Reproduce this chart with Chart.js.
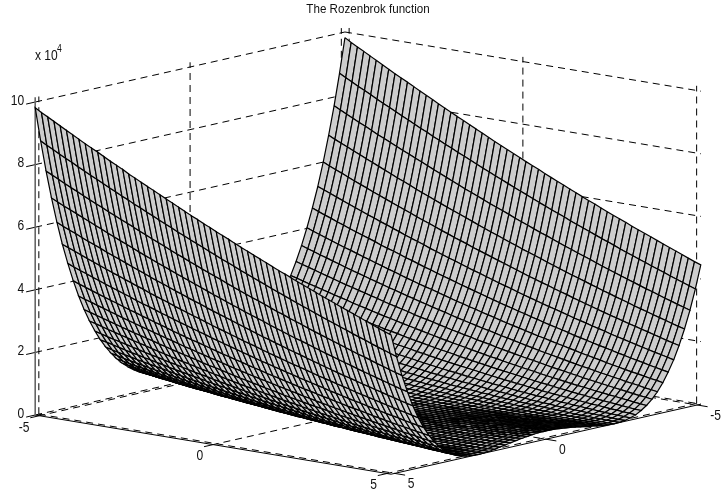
<!DOCTYPE html>
<html>
<head>
<meta charset="utf-8">
<title>The Rozenbrok function</title>
<script src="https://cdn.jsdelivr.net/npm/chart.js@4"></script>
<style>
  html, body { margin: 0; padding: 0; background: #fff; }
  canvas { display: block; }
</style>
</head>
<body>
<canvas id="surfaceChart" width="728" height="496"></canvas>
<script>
// Mesh nodes (x is mirrored around 0, so only one half is listed)
const xHalf = [0.09,0.27,0.449,0.629,0.808,0.988,1.168,1.347,1.527,1.707,1.886,2.066,2.246,2.425,2.605,2.785,2.964,3.144,3.324,3.503,3.683,3.863,4.042,4.222,4.401,4.581,4.761,4.94,5.12];
const yVals = [-5.12,-4.94,-4.76,-4.58,-4.4,-4.22,-4.04,-3.86,-3.68,-3.5,-3.32,-3.14,-2.96,-2.78,-2.6,-2.43,-2.25,-2.07,-1.89,-1.71,-1.53,-1.35,-1.17,-0.99,-0.81,-0.63,-0.45,-0.27,-0.09,0.09,0.27,0.45,0.63,0.81,0.99,1.17,1.35,1.53,1.71,1.89,2.07,2.25,2.43,2.6,2.78,2.96,3.14,3.32,3.5,3.68,3.86,4.04,4.22,4.4,4.58,4.76,4.94,5.12];

// Surface height in hundreds, one row per xHalf value, one column per yVals value
const zRows = [
[26,24,23,21,19,18,16,15,14,12,11,10,9,8,7,6,5,4,4,3,2,2,1,1,1,0,0,0,0,0,0,0,0,1,1,1,2,2,3,4,4,5,6,7,8,9,10,11,12,14,15,16,18,19,21,23,24,26],
[27,25,23,22,20,18,17,15,14,13,11,10,9,8,7,6,5,5,4,3,3,2,2,1,1,0,0,0,0,0,0,0,0,1,1,1,2,2,3,3,4,5,6,6,7,8,9,11,12,13,14,16,17,19,20,22,24,26],
[28,26,25,23,21,20,18,16,15,14,12,11,10,9,8,7,6,5,4,4,3,2,2,1,1,1,0,0,0,0,0,0,0,0,1,1,1,2,2,3,3,4,5,6,7,8,9,10,11,12,13,15,16,18,19,21,22,24],
[30,29,27,25,23,21,20,18,17,15,14,13,11,10,9,8,7,6,5,4,4,3,2,2,1,1,1,0,0,0,0,0,0,0,0,1,1,1,2,2,3,3,4,5,6,7,8,9,10,11,12,13,15,16,18,19,21,22],
[33,31,29,27,26,24,22,20,19,17,16,14,13,12,11,9,8,7,6,6,5,4,3,3,2,2,1,1,1,0,0,0,0,0,0,0,0,1,1,2,2,3,3,4,5,5,6,7,8,9,10,11,13,14,15,17,18,20],
[37,35,33,31,29,27,25,23,22,20,18,17,16,14,13,12,10,9,8,7,6,5,5,4,3,3,2,2,1,1,0,0,0,0,0,0,0,0,1,1,1,2,2,3,3,4,5,6,6,7,8,9,11,12,13,14,16,17],
[42,40,37,35,33,31,29,27,25,24,22,20,19,17,16,14,13,12,11,9,8,7,6,6,5,4,3,3,2,2,1,1,1,0,0,0,0,0,0,0,1,1,1,2,2,3,3,4,5,5,6,7,8,9,10,12,13,14],
[48,46,43,41,39,37,34,32,30,28,26,25,23,21,20,18,16,15,14,12,11,10,9,8,7,6,5,4,4,3,2,2,1,1,1,0,0,0,0,0,0,0,0,1,1,1,2,2,3,3,4,5,6,7,8,9,10,11],
[56,53,50,48,45,43,41,38,36,34,32,30,28,26,24,23,21,19,18,16,15,14,12,11,10,9,8,7,6,5,4,4,3,2,2,1,1,1,0,0,0,0,0,0,0,0,1,1,1,2,2,3,4,4,5,6,7,8],
[64,62,59,56,53,51,48,46,43,41,39,37,35,32,30,29,27,25,23,21,20,18,17,15,14,13,11,10,9,8,7,6,5,4,4,3,2,2,1,1,1,0,0,0,0,0,0,0,0,1,1,1,2,2,3,3,4,5],
[75,72,69,66,63,61,58,55,52,50,47,45,43,40,38,36,34,32,30,28,26,24,22,21,19,18,16,15,13,12,11,10,9,8,7,6,5,4,3,3,2,2,1,1,1,0,0,0,0,0,0,0,0,1,1,1,2,2],
[88,85,82,78,75,72,69,66,63,60,58,55,52,50,47,45,43,40,38,36,34,32,30,28,26,24,22,21,19,17,16,15,13,12,11,10,9,8,7,6,5,4,3,3,2,2,1,1,1,0,0,0,0,0,0,0,0,1],
[103,100,96,93,89,86,82,79,76,73,70,67,64,61,59,56,53,51,48,46,43,41,39,36,34,32,30,28,26,25,23,21,19,18,16,15,14,12,11,10,9,8,7,6,5,4,4,3,2,2,1,1,1,0,0,0,0,0],
[121,117,113,109,106,102,98,95,91,88,85,81,78,75,72,69,66,63,60,58,55,52,50,47,45,42,40,38,36,34,31,29,28,26,24,22,21,19,17,16,15,13,12,11,10,9,8,7,6,5,4,3,3,2,2,1,1,1],
[142,138,133,129,125,121,117,113,110,106,102,99,95,92,88,85,82,78,75,72,69,66,63,60,58,55,52,50,47,45,42,40,38,36,34,31,29,28,26,24,22,21,19,17,16,15,13,12,11,10,9,8,7,6,5,4,3,3],
[166,161,156,152,148,143,139,135,131,127,123,119,115,111,107,104,100,96,93,89,86,83,80,76,73,70,67,64,61,59,56,53,51,48,46,43,41,39,36,34,32,30,28,27,25,23,21,20,18,17,15,14,12,11,10,9,8,7],
[193,189,184,179,174,169,165,160,156,151,147,142,138,134,130,126,122,118,114,110,107,103,99,96,92,89,85,82,79,76,73,70,67,64,61,58,55,53,50,48,45,43,40,38,36,34,32,30,28,26,24,23,21,19,18,16,15,13],
[225,220,214,209,204,199,194,189,184,179,175,170,165,161,156,152,147,143,139,134,130,126,122,118,114,110,107,103,99,96,92,89,86,82,79,76,73,70,67,64,61,58,56,53,50,48,45,43,41,38,36,34,32,30,28,26,24,23],
[261,256,250,244,239,233,228,222,217,212,206,201,196,191,186,181,177,172,167,163,158,154,149,145,140,136,132,128,124,120,116,112,108,105,101,97,94,90,87,84,80,77,74,71,68,65,62,60,57,54,52,49,47,44,42,39,37,35],
[302,296,290,284,278,272,266,260,254,249,243,238,232,227,221,216,211,206,201,195,190,186,181,176,171,166,162,157,153,148,144,140,135,131,127,123,119,115,112,108,104,100,97,94,90,87,83,80,77,74,71,68,65,62,59,56,54,51],
[349,342,336,329,323,316,310,303,297,291,285,279,273,267,261,256,250,244,239,233,228,222,217,212,206,201,196,191,186,181,177,172,167,163,158,154,149,145,140,136,132,128,124,120,116,112,109,105,101,98,94,91,87,84,81,77,74,71],
[402,394,387,380,373,366,359,353,346,339,333,326,320,313,307,301,294,288,282,276,271,265,259,253,247,242,236,231,225,220,215,209,204,199,194,189,184,179,175,170,165,161,156,152,147,143,139,135,130,126,122,118,114,111,107,103,100,96],
[461,453,445,438,430,423,415,408,401,394,387,379,372,366,359,352,346,339,332,326,319,313,307,300,294,288,282,276,270,264,258,252,247,241,236,230,225,219,214,209,204,199,193,189,184,179,174,170,165,160,156,151,147,143,138,134,130,126],
[526,518,510,502,494,486,478,470,462,455,447,440,432,425,417,410,403,396,388,381,374,367,361,354,347,340,334,327,321,314,308,302,295,289,283,277,271,265,260,254,248,242,237,232,226,221,216,210,205,200,195,190,185,180,175,171,166,161],
[600,591,582,574,565,556,548,540,531,523,515,507,499,491,483,475,467,460,452,444,437,429,422,415,407,400,393,386,379,372,365,358,351,344,338,331,325,318,312,306,299,293,287,281,275,269,263,258,252,246,241,235,230,224,219,213,208,203],
[682,672,663,654,645,636,627,618,609,600,591,582,574,565,556,548,540,531,523,515,507,499,491,483,475,467,459,452,444,436,429,421,414,407,400,392,385,378,371,364,358,351,344,338,331,325,318,312,306,299,293,287,281,275,269,263,257,252],
[772,762,752,742,732,723,713,703,694,685,675,666,657,648,639,630,621,612,603,594,585,576,568,559,551,542,534,526,518,509,501,493,485,477,470,462,454,446,439,431,424,417,409,402,395,388,381,374,367,360,353,347,340,333,327,320,314,308],
[872,861,851,840,830,820,809,799,789,779,769,759,749,739,730,720,711,701,692,682,673,664,654,645,636,627,618,609,600,591,583,574,565,557,548,540,532,523,515,507,499,491,483,476,468,460,452,445,437,430,422,415,408,400,393,386,379,372],
[982,970,959,948,937,926,915,904,893,883,873,862,851,841,831,820,810,800,790,780,770,760,750,740,730,720,711,701,692,682,673,664,654,645,636,627,618,609,600,591,583,574,565,557,549,541,532,524,516,508,500,492,484,476,468,460,452,445]
];

// Tick values
const xyTicks = [-5, 0, 5];
const zTicks = [0, 2, 4, 6, 8, 10];
const limit = 5.12;
const zTop = 10.15;

// 3D to picture position, this is the view of the plot box
function project(x, y, z) {
    return {
        x: 368 - 30.25 * x + 34.75 * y,
        y: 409.6 + 6.84 * x + 5.78 * y - 31.3 * z
    };
}

// Node of the full mesh, x index runs from -5.12 to 5.12
function node(ix, iy) {
    const row = ix < 29 ? 28 - ix : ix - 29;
    const x = ix < 29 ? -xHalf[row] : xHalf[row];
    return project(x, yVals[iy], zRows[row][iy] / 100);
}

// Chart.js paints dataset 0 last, so the nearest patches go first
const datasets = [];
for (let ix = 56; ix >= 0; ix--) {
    for (let iy = 56; iy >= 0; iy--) {
        const a = node(ix, iy);
        datasets.push({
            data: [a, node(ix + 1, iy), node(ix + 1, iy + 1), node(ix, iy + 1), a],
            showLine: true,
            fill: 'shape',
            backgroundColor: '#cdcdcd',
            borderColor: '#000',
            borderWidth: 1.2,
            pointRadius: 0
        });
    }
}

function addLine(from, to, color, width, dash) {
    datasets.push({
        data: [project(from[0], from[1], from[2]), project(to[0], to[1], to[2])],
        showLine: true,
        fill: false,
        borderColor: color,
        borderWidth: width,
        borderDash: dash,
        pointRadius: 0
    });
}

// Solid axes and tick marks
addLine([limit, -limit, 0], [limit, -limit, zTop], '#666', 1.6, []);
addLine([limit, -limit, 0], [limit, limit, 0], '#000', 1, []);
addLine([limit, limit, 0], [-limit, limit, 0], '#000', 1, []);
zTicks.forEach(z => addLine([limit, -limit, z], [limit + 0.3, -limit, z], '#000', 1, []));
xyTicks.forEach(v => {
    addLine([limit, v, 0], [limit + 0.3, v, 0], '#000', 1, []);
    addLine([v, limit, 0], [v, limit + 0.3, 0], '#000', 1, []);
});

// Dashed grid on the two back walls and the floor
const gridDash = [7, 5];
zTicks.forEach(z => {
    addLine([limit, -limit, z], [-limit, -limit, z], '#000', 1, gridDash);
    addLine([-limit, -limit, z], [-limit, limit, z], '#000', 1, gridDash);
});
xyTicks.forEach(v => {
    addLine([v, -limit, 0], [v, -limit, zTop], '#000', 1, gridDash);
    addLine([-limit, v, 0], [-limit, v, zTop], '#000', 1, gridDash);
    addLine([v, -limit, 0], [v, limit, 0], '#000', 1, gridDash);
    addLine([-limit, v, 0], [limit, v, 0], '#000', 1, gridDash);
});

// Labels of the 3D axes, Chart.js has no axis for these
const surfaceLabels = {
    id: 'surfaceLabels',
    afterDraw(chart) {
        const ctx = chart.ctx;
        const sx = chart.scales.x;
        const sy = chart.scales.y;
        function put(text, pos, dx, dy, align, size) {
            ctx.font = size + 'px "Liberation Sans"';
            ctx.textAlign = align;
            ctx.textBaseline = 'middle';
            ctx.fillStyle = '#111';
            const w = ctx.measureText(text).width * 0.86;
            ctx.fillText(text, sx.getPixelForValue(pos.x) + dx, sy.getPixelForValue(pos.y) + dy, w);
        }
        zTicks.forEach(z => put(String(z), project(limit, -limit, z), -11, -1, 'right', 14));
        xyTicks.forEach(v => {
            put(String(v), project(limit, v, 0), -10, 12, 'right', 14);
            put(String(v), project(v, limit, 0), 13, 11, 'left', 14);
        });
        put('x 10', { x: 35, y: 56 }, 0, 0, 'left', 14);
        put('4', { x: 57, y: 49 }, 0, 0, 'left', 10);
        put('The Rozenbrok function', { x: 368, y: 9 }, 0, 0, 'center', 13.5);
    }
};

new Chart(document.getElementById('surfaceChart'), {
    type: 'scatter',
    data: { datasets: datasets },
    plugins: [surfaceLabels],
    options: {
        responsive: false,
        animation: false,
        parsing: false,
        normalized: true,
        events: [],
        layout: { padding: 0 },
        plugins: {
            legend: { display: false },
            tooltip: { enabled: false },
            colors: { enabled: false }
        },
        scales: {
            x: { type: 'linear', min: 0, max: 728, display: false },
            y: { type: 'linear', min: 0, max: 496, reverse: true, display: false }
        }
    }
});
</script>
</body>
</html>
